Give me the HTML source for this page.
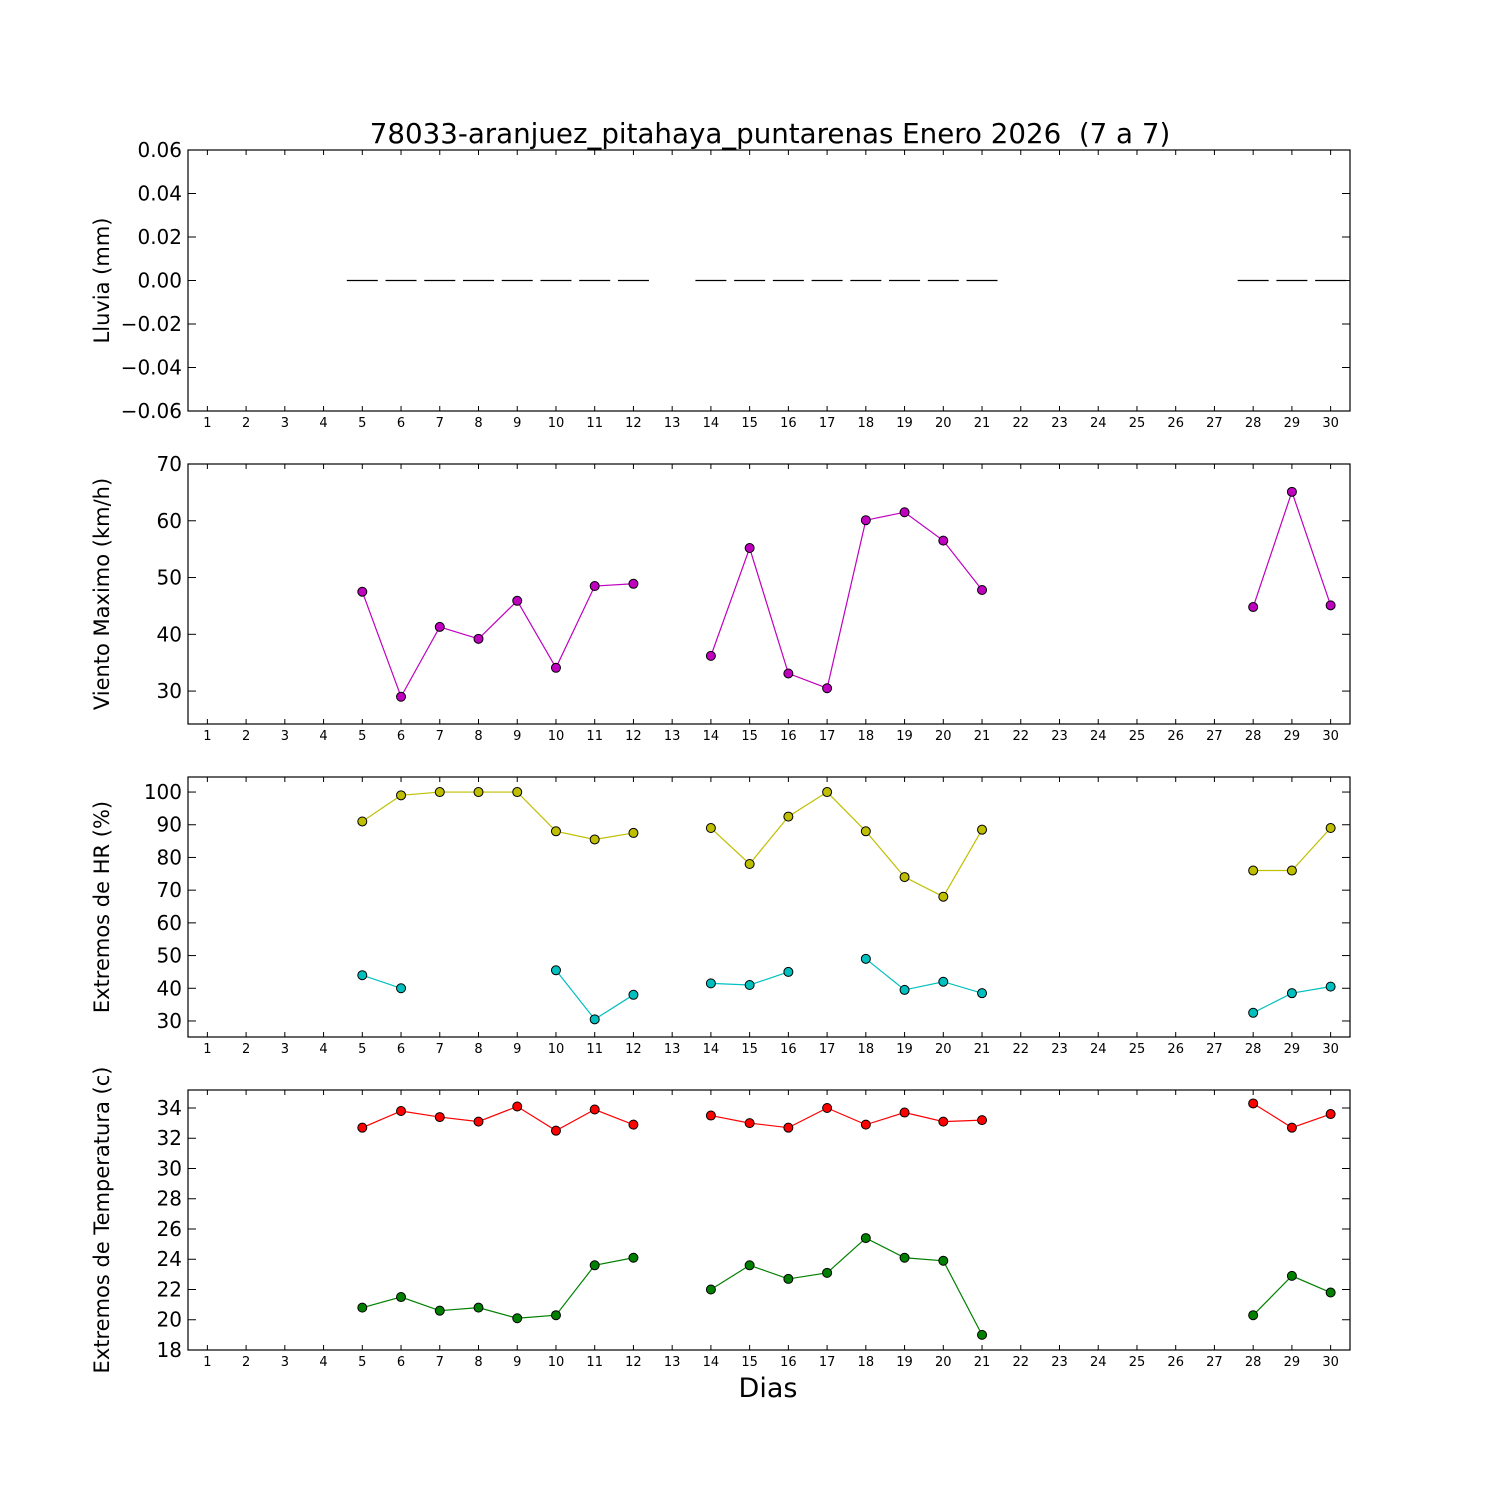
<!DOCTYPE html>
<html><head><meta charset="utf-8"><style>
body{margin:0;background:#fff}
svg{display:block;font-family:"DejaVu Sans","Liberation Sans",sans-serif}
</style></head><body>
<svg id="chart" width="1500" height="1500" xmlns="http://www.w3.org/2000/svg">
<rect width="1500" height="1500" fill="#fff"/>
<text x="770" y="143" font-size="27.7" text-anchor="middle" style="white-space:pre">78033-aranjuez_pitahaya_puntarenas Enero 2026  (7 a 7)</text>
<text x="768" y="1397" font-size="27" text-anchor="middle">Dias</text>
</svg>
<script>
const days = Array.from({length:30},(_,i)=>i+1);
const rainDays = [5,6,7,8,9,10,11,12,14,15,16,17,18,19,20,21,28,29,30];
const rainVals = [0,0,0,0,0,0,0,0,0,0,0,0,0,0,0,0,0,0,0];
const windVals = [null,null,null,null,47.5,29,41.3,39.2,45.9,34.1,48.5,48.9,null,36.2,55.2,33.1,30.5,60.1,61.5,56.5,47.8,null,null,null,null,null,null,44.8,65.1,45.1];
const hrMax = [null,null,null,null,91,99,100,100,100,88,85.5,87.5,null,89,78,92.5,100,88,74,68,88.5,null,null,null,null,null,null,76,76,89];
const hrMin = [null,null,null,null,44,40,null,null,null,45.5,30.5,38,null,41.5,41,45,null,49,39.5,42,38.5,null,null,null,null,null,null,32.5,38.5,40.5];
const tMax = [null,null,null,null,32.7,33.8,33.4,33.1,34.1,32.5,33.9,32.9,null,33.5,33.0,32.7,34.0,32.9,33.7,33.1,33.2,null,null,null,null,null,null,34.3,32.7,33.6];
const tMin = [null,null,null,null,20.8,21.5,20.6,20.8,20.1,20.3,23.6,24.1,null,22.0,23.6,22.7,23.1,25.4,24.1,23.9,19.0,null,null,null,null,null,null,20.3,22.9,21.8];
const rainTicks = [-0.06,-0.04,-0.02,0,0.02,0.04,0.06];
const windTicks = [30,40,50,60,70];
const hrTicks = [30,40,50,60,70,80,90,100];
const tTicks = [18,20,22,24,26,28,30,32,34];

const svg = document.getElementById('chart');
const NS = 'http://www.w3.org/2000/svg';
const L=188,R=1350;
const X = d => L + (d-0.5)*(R-L)/30;
function mk(tag,attrs,parent){const e=document.createElementNS(NS,tag);for(const k in attrs)e.setAttribute(k,attrs[k]);(parent||svg).appendChild(e);return e;}

function panel(name,top,bot,ymin,ymax,ticks,fmt,ylabel){
  const g=mk('g',{});
  
  
  const Y=v=>bot-(v-ymin)/(ymax-ymin)*(bot-top);
  const fr=mk('rect',{x:L,y:top,width:R-L,height:bot-top,fill:'none',stroke:'#000','stroke-width':1.2},g);
  
  
  days.forEach(d=>{
    const x=X(d);
    mk('line',{x1:x,x2:x,y1:bot,y2:bot-5,stroke:'#000'},g);
    mk('line',{x1:x,x2:x,y1:top,y2:top+5,stroke:'#000'},g);
    const t=mk('text',{x:x,y:bot+16,'font-size':13,'text-anchor':'middle'},g);
    t.textContent=d;
    
    
  });
  ticks.forEach(v=>{
    const y=Y(v);
    mk('line',{x1:L,x2:L+8,y1:y,y2:y,stroke:'#000'},g);
    mk('line',{x1:R,x2:R-8,y1:y,y2:y,stroke:'#000'},g);
    const t=mk('text',{x:L-6,y:y+7,'font-size':20,'text-anchor':'end'},g);
    t.textContent=fmt(v);
    
    
  });
  const cy=(top+bot)/2;
  const yl=mk('text',{x:0,y:0,'font-size':21,'text-anchor':'middle',transform:`translate(109,${cy}) rotate(-90)`},g);
  yl.textContent=ylabel;
  
  
  return {g,Y};
}
function series(p,vals,color,name){
  let seg=[];
  const segs=[];
  vals.forEach((v,i)=>{ if(v==null){if(seg.length)segs.push(seg);seg=[];} else seg.push([X(days[i]),p.Y(v)]); });
  if(seg.length)segs.push(seg);
  segs.forEach(s=>{ if(s.length>1){const pl=mk('polyline',{points:s.map(q=>q.join(',')).join(' '),fill:'none',stroke:color,'stroke-width':1.2},p.g);
    
    }});
  vals.forEach((v,i)=>{ if(v==null)return;
    const c=mk('circle',{cx:X(days[i]),cy:p.Y(v),r:4.5,fill:color,stroke:'#000','stroke-width':1},p.g);
    
    
  });
}
const p1=panel('rain',150,411,-0.06,0.06,rainTicks,v=>(v<0?'\u2212':'')+Math.abs(v).toFixed(2),'Lluvia (mm)');
rainDays.forEach((d,i)=>{
  const y=p1.Y(rainVals[i]);
  const b=mk('line',{x1:X(d-0.4),x2:X(d+0.4),y1:y,y2:y,stroke:'#000','stroke-width':1.2},p1.g);
  
  
});
const p2=panel('wind',464,724,24.2,70,windTicks,v=>v,'Viento Maximo (km/h)');
series(p2,windVals,'#bf00bf','wind-max');
const p3=panel('humidity',777,1037,25.1,104.6,hrTicks,v=>v,'Extremos de HR (%)');
series(p3,hrMax,'#bfbf00','hr-max');
series(p3,hrMin,'#00bfbf','hr-min');
const p4=panel('temperature',1090,1350,18,35.19,tTicks,v=>v,'Extremos de Temperatura (c)');
series(p4,tMax,'#ff0000','temp-max');
series(p4,tMin,'#008000','temp-min');
</script>
</body></html>
